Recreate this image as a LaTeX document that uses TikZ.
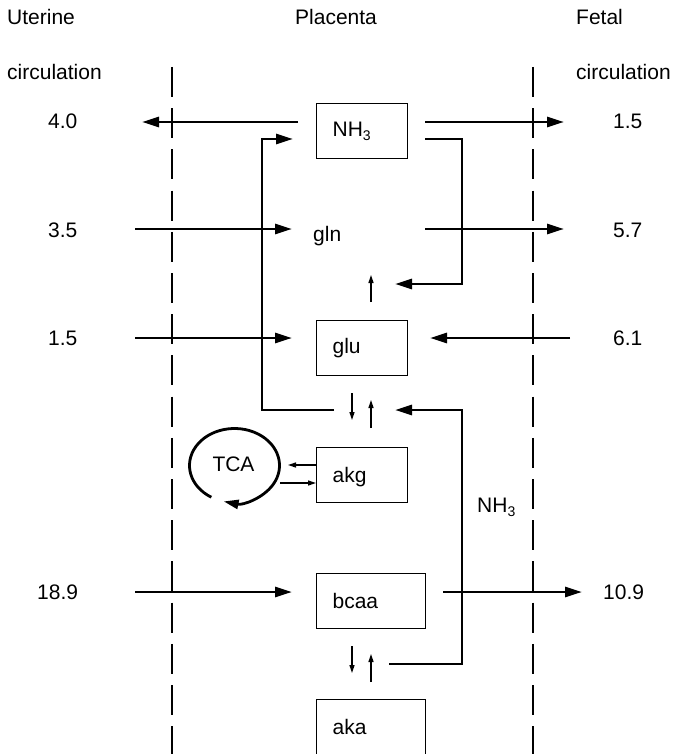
\documentclass[tikz,border=0pt]{standalone}
\usepackage{fontspec}
\setmainfont{Liberation Sans}
\usetikzlibrary{arrows.meta,calc}
\newcommand{\subthree}{\raisebox{-4.5pt}{\fontsize{14}{14}\selectfont 3}}
\begin{document}
\begin{tikzpicture}[x=1pt,y=-1pt,
  every node/.style={font=\fontsize{21}{24}\selectfont, inner sep=0pt},
  thickln/.style={line width=2.8pt},
  bigarr/.style={thickln, -{Triangle[length=17pt,width=10pt]}},
  smallarr/.style={line width=1.3pt, -{Triangle[length=8pt,width=5pt]}},
  boxst/.style={draw, line width=1.2pt, anchor=north west, inner xsep=16pt, inner ysep=0pt, align=left, minimum height=55pt},
  dashln/.style={line width=2.8pt, dash pattern=on 30pt off 11.2pt},
  lbl/.style={anchor=base west}]
\useasboundingbox (0,0) rectangle (673,754);

% headings
\node[lbl] (ut) at (7,25) {Uterine};
\node[lbl] (utc) at (7,80) {circulation};
\node[lbl] (pl) at (295,25) {Placenta};
\node[lbl] (fe) at (576,25) {Fetal};
\node[lbl] (fec) at (576,80) {circulation};

% dashed membranes
\coordinate (dlt) at (172,67); \coordinate (dlb) at (172,754);
\coordinate (drt) at (533,67); \coordinate (drb) at (533,754);
\draw[dashln] (dlt) -- (dlb);
\draw[dashln] (drt) -- (drb);

% numbers
\node[lbl] (n40) at (48,129) {4.0};
\node[lbl] (n15a) at (613,129) {1.5};
\node[lbl] (n35) at (48,237) {3.5};
\node[lbl] (n57) at (613,237) {5.7};
\node[lbl] (n15b) at (48,345) {1.5};
\node[lbl] (n61) at (613,345) {6.1};
\node[lbl] (n189) at (37,599) {18.9};
\node[lbl] (n109) at (603,599) {10.9};

% boxes
\node[boxst, text width=59pt] (nh3) at (316,103) {NH\subthree};
\node[lbl] (gln) at (313,241) {gln};
\node[boxst, text width=59pt] (glu) at (316,320) {glu};
\node[boxst, text width=59pt, text depth=0pt] (akg) at (316,447) {akg};
\node[boxst, text width=77pt] (bcaa) at (316,573) {bcaa};
\node[boxst, text width=77pt] (aka) at (316,699) {aka};
\node (tca) at (233.5,464) {TCA};
\node[lbl] (nh3b) at (477,512) {NH\subthree};

% row 1 : NH3
\coordinate (a1s) at (298,122); \coordinate (a1e) at (142,122);
\draw[bigarr] (a1s) -- (a1e);
\coordinate (a2s) at (425,122); \coordinate (a2e) at (564,122);
\draw[bigarr] (a2s) -- (a2e);
\coordinate (l1s) at (425,139); \coordinate (l1e) at (395,284);
\draw[bigarr] (l1s) -- (462,139) -- (462,284) -- (l1e);
\coordinate (l2s) at (334,410); \coordinate (l2e) at (293,139);
\draw[bigarr] (l2s) -- (262,410) -- (262,139) -- (l2e);

% row 2 : gln
\coordinate (g1s) at (135,229); \coordinate (g1e) at (292,229);
\draw[bigarr] (g1s) -- (g1e);
\coordinate (g2s) at (425,229); \coordinate (g2e) at (564,229);
\draw[bigarr] (g2s) -- (g2e);
\coordinate (u1s) at (371,302); \coordinate (u1e) at (371,275);
\draw[smallarr] (u1s) -- (u1e);

% row 3 : glu
\coordinate (h1s) at (135,338); \coordinate (h1e) at (292,338);
\draw[bigarr] (h1s) -- (h1e);
\coordinate (h2s) at (570,338); \coordinate (h2e) at (430,338);
\draw[bigarr] (h2s) -- (h2e);
\coordinate (d1s) at (352,393); \coordinate (d1e) at (352,420);
\draw[smallarr] (d1s) -- (d1e);
\coordinate (u2s) at (371,428); \coordinate (u2e) at (371,400);
\draw[smallarr] (u2s) -- (u2e);

% NH3 return loop from bcaa/aka
\coordinate (l3s) at (389,664); \coordinate (l3e) at (395,410);
\draw[bigarr] (l3s) -- (462,664) -- (462,410) -- (l3e);

% TCA
\coordinate (tcac) at (234.5,465.5);
\coordinate (t1e) at (288,465);
\draw[smallarr] (akg.west |- t1e) -- (t1e);
\coordinate (t2s) at (280,483);
\draw[smallarr] (t2s) -- (akg.west |- t2s);
\draw[thickln, -{Triangle[length=15pt,width=9pt]}] ([shift={(239:45pt and 37pt)}]tcac)
   arc[start angle=239, end angle=-104, x radius=45pt, y radius=37pt];

% row bcaa
\coordinate (b1s) at (135,592); \coordinate (b1e) at (292,592);
\draw[bigarr] (b1s) -- (b1e);
\coordinate (b2s) at (443,592); \coordinate (b2e) at (582,592);
\draw[bigarr] (b2s) -- (b2e);
\coordinate (d2s) at (352,646); \coordinate (d2e) at (352,673);
\draw[smallarr] (d2s) -- (d2e);
\coordinate (u3s) at (371,682); \coordinate (u3e) at (371,654);
\draw[smallarr] (u3s) -- (u3e);
\end{tikzpicture}
\end{document}
